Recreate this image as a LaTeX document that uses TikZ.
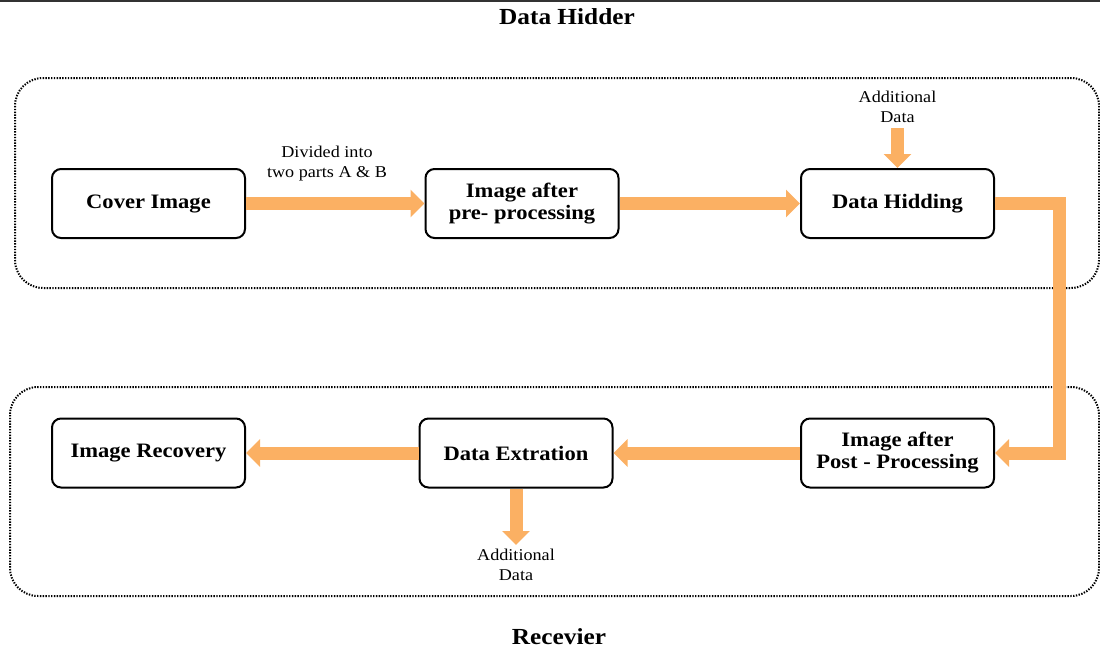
\documentclass[tikz,border=0pt]{standalone}
\usepackage{fontspec}
\setmainfont{Liberation Serif}[FakeStretch=1.1]
\usetikzlibrary{arrows.meta}
\definecolor{flow}{HTML}{FBB063}
\begin{document}
\begin{tikzpicture}[x=1pt,y=-1pt,
  stepbox/.style={draw, line width=2pt, rounded corners=9pt, fill=white,
    minimum width=193pt, minimum height=69pt, align=center, inner sep=0pt,
    font=\bfseries\fontsize{20.5}{22}\selectfont},
  group/.style={line width=2pt, dash pattern=on 1.4pt off 1.4pt, rounded corners=28pt},
  flowarrow/.style={draw=flow, line width=13pt, line join=miter,
    -{Triangle[width=27pt,length=14pt]}},
  note/.style={font=\fontsize{16.5}{20}\selectfont, align=center, inner sep=0pt},
  heading/.style={font=\bfseries\fontsize{23}{26}\selectfont, inner sep=0pt}]
\useasboundingbox (0,0) rectangle (1100,651);
\draw[line width=2pt, black!80] (0,1) -- (1100,1);

% sender and receiver groups
\draw[group] (15,78) rectangle (1099,288);
\draw[group] (10,387) rectangle (1099,596);

\node[heading] (hidertitle) at (567,17) {Data Hidder};
\node[heading] (receivertitle) at (559,637) {Recevier};

% process steps
\node[stepbox] (cover) at (148.5,203.5) {Cover Image};
\node[stepbox] (pre) at (522,203.5) {Image after\\pre- processing};
\node[stepbox] (hide) at (897.5,203.5) {Data Hidding};
\node[stepbox] (post) at (897.5,453) {Image after\\Post - Processing};
\node[stepbox] (extract) at (516,453) {Data Extration};
\node[stepbox] (recover) at (148.5,453) {Image Recovery};

\node[note] (split) at (327,164) {Divided into\\two parts A \& B};
\node[note] (addin) at (897.5,107) {Additional\\Data};
\node[note] (addout) at (516,565) {Additional\\Data};

% flow arrows
\coordinate (turnA) at (1059,203.5);
\coordinate (turnB) at (1059,453);
\draw[flowarrow] (cover) -- (pre);
\draw[flowarrow] (pre) -- (hide);
\draw[flowarrow] (hide.east) -- (turnA) -- (turnB) -- (post.east);
\draw[flowarrow] (post) -- (extract);
\draw[flowarrow] (extract) -- (recover);
\draw[flowarrow, shorten <=5pt] (hide.north |- addin.south) -- (hide.north);
\draw[flowarrow, shorten >=4pt] (extract.south) -- (extract.south |- addout.north);
\end{tikzpicture}
\end{document}
